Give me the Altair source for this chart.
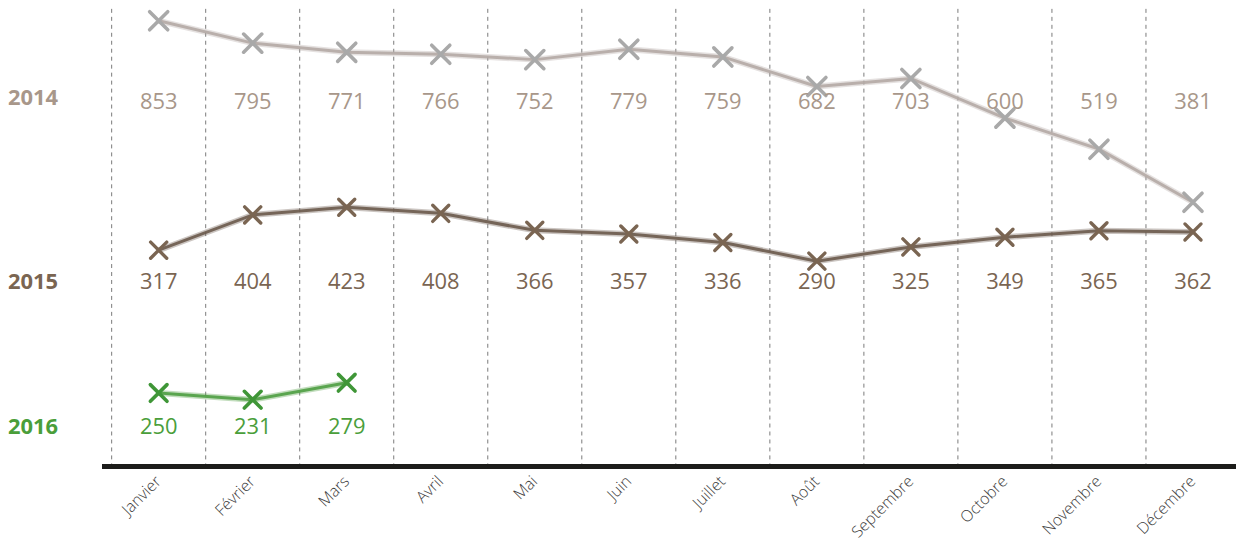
import altair as alt
import pandas as pd

months = ["Janvier", "Février", "Mars", "Avril", "Mai", "Juin", "Juillet",
          "Août", "Septembre", "Octobre", "Novembre", "Décembre"]
years = ["2014", "2015", "2016"]
v2014 = [853, 795, 771, 766, 752, 779, 759, 682, 703, 600, 519, 381]
v2015 = [317, 404, 423, 408, 366, 357, 336, 290, 325, 349, 365, 362]
v2016 = [250, 231, 279]

rows = []
for yr, vals in zip(years, (v2014, v2015, v2016)):
    for m, v in zip(months, vals):
        rows.append({"year": yr, "month": m, "value": v})
df = pd.DataFrame(rows)
grid_df = pd.DataFrame({"month": months})

W, H = 1128, 459
XR = 1132
FONT = "Open Sans"

styles = {
    "2014": dict(domain=[-306, 884], line="#b4aaa5", marker="#a9a9a9",
                 text="#a8978a", row=93, lab_row=89, msize=330, mw=3.6),
    "2015": dict(domain=[-217, 913], line="#6b5a4c", marker="#7a6552",
                 text="#7a6552", row=274, lab_row=274, msize=260, mw=3.4),
    "2016": dict(domain=[42, 1338], line="#4f9f42", marker="#3f9637",
                 text="#4a9e3a", row=420, lab_row=420, msize=280, mw=3.6),
}

xscale = alt.Scale(type="band", paddingInner=0, paddingOuter=0, domain=months,
                   range=[0, XR])
xaxis = alt.Axis(title=None, ticks=False, domain=False, grid=False,
                 labelAngle=-45, labelAlign="right",
                 labelBaseline="middle", labelPadding=12,
                 labelFont=FONT, labelFontSize=16,
                 labelFontWeight=300, labelColor="#3c3c3c")
xenc = alt.X("month:N", sort=months, scale=xscale, axis=xaxis)

labels_axis = alt.Chart(grid_df).mark_rule(opacity=0).encode(
    x=alt.X("month:N", sort=months, scale=xscale, axis=xaxis),
    y=alt.value(0), y2=alt.value(1))

grid = alt.Chart(grid_df).mark_rule(
    color="#7a7a7a", strokeDash=[4, 4], strokeWidth=1
).encode(x=alt.X("month:N", sort=months, scale=xscale, bandPosition=0, axis=xaxis),
         y=alt.value(0), y2=alt.value(H))

baseline = alt.Chart(grid_df).mark_rule(color="#1c1c1a", strokeWidth=5).encode(
    x=alt.value(-9), x2=alt.value(XR), y=alt.value(H))

layers = [labels_axis, grid, baseline]
for yr in years:
    s = styles[yr]
    base = alt.Chart(df).transform_filter(alt.datum.year == yr)
    yenc = alt.Y("value:Q", scale=alt.Scale(domain=s["domain"], nice=False, zero=False),
                 axis=None)
    halo = base.mark_line(color=s["line"], strokeWidth=6, opacity=0.35).encode(x=xenc, y=yenc)
    line = base.mark_line(color=s["line"], strokeWidth=3, opacity=0.9).encode(x=xenc, y=yenc)
    pts = base.mark_point(shape="M-1,-1L1,1M-1,1L1,-1", filled=False, opacity=1,
                          size=s["msize"], strokeWidth=s["mw"], color=s["marker"],
                          strokeCap="round").encode(x=xenc, y=yenc)
    txt = base.mark_text(font=FONT, fontSize=22, color=s["text"],
                         baseline="middle", align="center").encode(
        x=xenc, y=alt.value(s["row"]), text="value:Q")
    lab = alt.Chart(pd.DataFrame({"label": [yr]})).mark_text(
        font=FONT, fontSize=22, fontWeight="bold", color=s["text"],
        align="left", baseline="middle").encode(
        x=alt.value(-104), y=alt.value(s["lab_row"]), text="label:N")
    layers += [halo, line, pts, txt, lab]

chart = alt.layer(*layers).resolve_scale(y="independent").properties(
    width=W, height=H,
    autosize=alt.AutoSizeParams(type="none"),
    padding={"left": 104, "top": 0, "right": 0, "bottom": 79},
).configure_view(stroke=None)

chart.save("out.html", embed_options={"renderer": "svg", "actions": False})
